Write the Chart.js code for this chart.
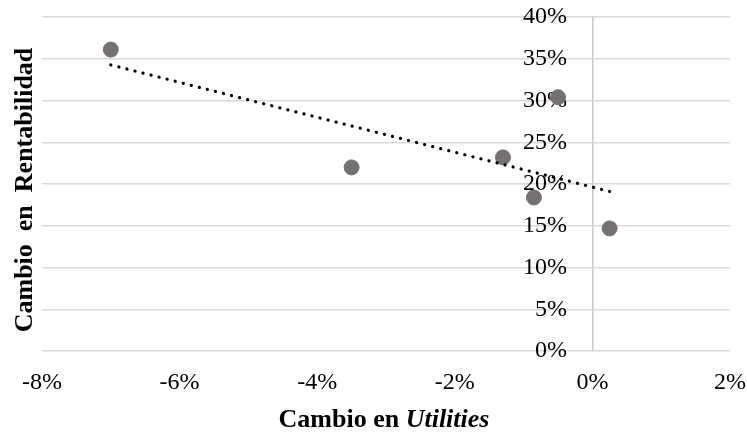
<!DOCTYPE html>
<html>
<head>
<meta charset="utf-8">
<script src="https://cdn.jsdelivr.net/npm/chart.js@4"></script>
<style>
  html, body { margin: 0; padding: 0; background: #fff; }
  #wrap { width: 747px; height: 434px; }
</style>
</head>
<body>
<div id="wrap"><canvas id="scatterChart"></canvas></div>
<script>
// Cambio en Utilities (%) vs Cambio en Rentabilidad (%)
var utilities = [-7.0, -3.5, -1.3, -0.85, -0.5, 0.25];
var rentabilidad = [36.1, 22.0, 23.2, 18.4, 30.4, 14.7];
var xTicks = [-8, -6, -4, -2, 0, 2];
var yTicks = [0, 5, 10, 15, 20, 25, 30, 35, 40];

var serif = '"Liberation Serif", "Times New Roman", serif';

var points = utilities.map(function (x, i) { return { x: x, y: rentabilidad[i] }; });

// linear trendline (least squares) from the data
var n = utilities.length;
var mx = utilities.reduce(function (a, b) { return a + b; }, 0) / n;
var my = rentabilidad.reduce(function (a, b) { return a + b; }, 0) / n;
var sxy = 0, sxx = 0;
for (var i = 0; i < n; i++) {
    sxy += (utilities[i] - mx) * (rentabilidad[i] - my);
    sxx += (utilities[i] - mx) * (utilities[i] - mx);
}
var slope = sxy / sxx;
var xMin = Math.min.apply(null, utilities), xMax = Math.max.apply(null, utilities);
var trend = [
    { x: xMin, y: my + slope * (xMin - mx) },
    { x: xMax, y: my + slope * (xMax - mx) }
];

// axis titles, x title mixes bold and bold italic
var titlesPlugin = {
    id: 'axisTitles',
    afterDraw: function (chart) {
        var ctx = chart.ctx, area = chart.chartArea;
        ctx.save();
        ctx.fillStyle = '#000';
        ctx.textBaseline = 'alphabetic';
        var part1 = 'Cambio en ', part2 = 'Utilities';
        ctx.font = 'bold 26px ' + serif;
        var w1 = ctx.measureText(part1).width;
        ctx.font = 'italic bold 26px ' + serif;
        var w2 = ctx.measureText(part2).width;
        var cx = (area.left + area.right) / 2 - 2;
        var x0 = cx - (w1 + w2) / 2;
        ctx.textAlign = 'left';
        ctx.font = 'bold 26px ' + serif;
        ctx.fillText(part1, x0, 427);
        ctx.font = 'italic bold 26px ' + serif;
        ctx.fillText(part2, x0 + w1, 427);

        // y title, words spread a little like the original
        ctx.translate(32, 190);
        ctx.rotate(-Math.PI / 2);
        ctx.font = 'bold 26px ' + serif;
        var words = ['Cambio', 'en', 'Rentabilidad'];
        var gap = 13;
        var widths = words.map(function (w) { return ctx.measureText(w).width; });
        var total = widths.reduce(function (a, b) { return a + b; }, 0) + gap * (words.length - 1);
        var px = -total / 2;
        words.forEach(function (w, k) {
            ctx.fillText(w, px, 0);
            px += widths[k] + gap;
        });
        ctx.restore();
    }
};

var ctx = document.getElementById('scatterChart').getContext('2d');
var chart = new Chart(ctx, {
    type: 'scatter',
    data: {
        datasets: [{
            type: 'line',
            label: 'Tendencia',
            data: trend,
            borderColor: '#000',
            borderWidth: 3.2,
            borderDash: [0.1, 8.2],
            borderCapStyle: 'round',
            pointRadius: 0,
            fill: false,
            order: 0
        }, {
            label: 'Datos',
            data: points,
            backgroundColor: '#767171',
            borderColor: '#767171',
            pointRadius: 7.5,
            pointHoverRadius: 7.5,
            order: 1
        }]
    },
    options: {
        responsive: true,
        maintainAspectRatio: false,
        animation: false,
        layout: { padding: { left: 42, right: 17, top: 17, bottom: 20 } },
        plugins: {
            legend: { display: false },
            tooltip: { enabled: false }
        },
        scales: {
            x: {
                type: 'linear',
                min: -8,
                max: 2,
                afterBuildTicks: function (axis) { axis.ticks = xTicks.map(function (v) { return { value: v }; }); },
                // the layout padding already leaves room for the end labels
                afterFit: function (axis) { axis.paddingLeft = 0; axis.paddingRight = 0; },
                ticks: {
                    callback: function (v) { return v + '%'; },
                    font: { family: serif, size: 24 },
                    color: '#000',
                    padding: 17,
                    maxRotation: 0
                },
                grid: {
                    drawTicks: false,
                    lineWidth: 1.5,
                    color: function (c) { return c.tick && c.tick.value === 0 ? '#c8c8c8' : 'rgba(0,0,0,0)'; }
                },
                border: { display: false }
            },
            y: {
                type: 'linear',
                min: 0,
                max: 40,
                afterBuildTicks: function (axis) { axis.ticks = yTicks.map(function (v) { return { value: v }; }); },
                ticks: { display: false },
                grid: { drawTicks: false, color: '#d9d9d9', lineWidth: 1.5 },
                border: { display: false }
            },
            yLabels: {
                type: 'linear',
                axis: 'y',
                position: { x: -0.37 },
                min: 0,
                max: 40,
                z: 1,
                afterBuildTicks: function (axis) { axis.ticks = yTicks.map(function (v) { return { value: v }; }); },
                afterFit: function (axis) { axis.width = 0; },
                ticks: {
                    callback: function (v) { return v + '%'; },
                    font: { family: serif, size: 24 },
                    color: '#000',
                    padding: 0
                },
                grid: { display: false, drawTicks: false },
                border: { display: false }
            }
        }
    },
    plugins: [titlesPlugin]
});
</script>
</body>
</html>
